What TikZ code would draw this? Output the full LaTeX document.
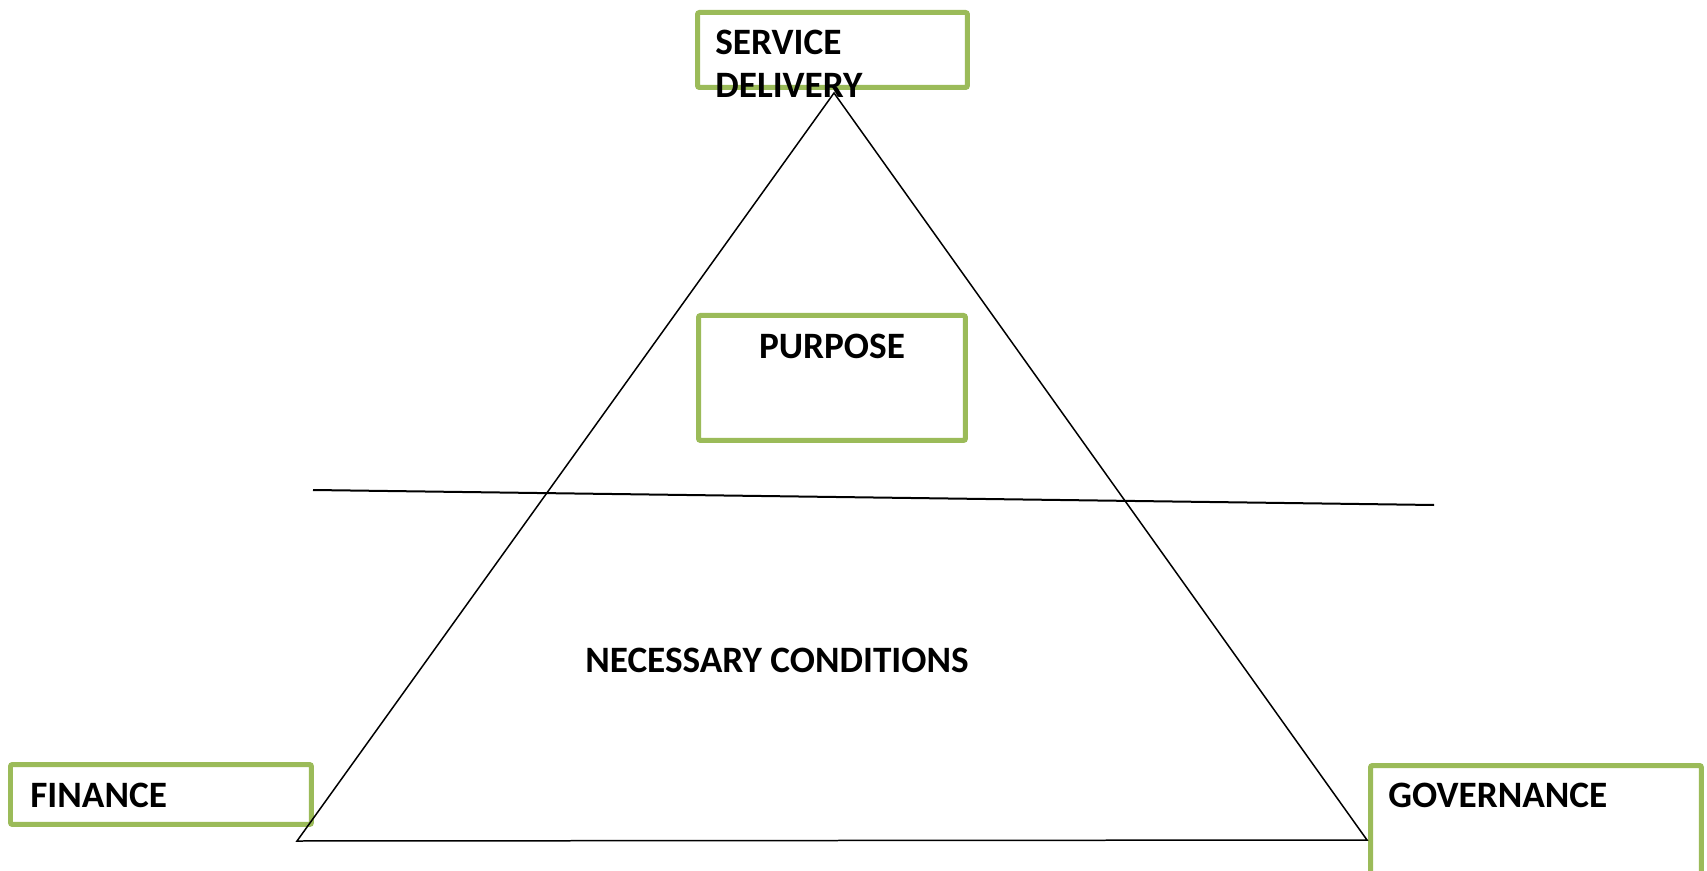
\documentclass[tikz,border=0pt]{standalone}
\usepackage{fontspec}
\setmainfont{Carlito}
\definecolor{boxgreen}{HTML}{9BBB59}
\begin{document}
\begin{tikzpicture}[x=0.02cm,y=-0.02cm,
    greenbox/.style={draw=boxgreen,line width=0.1cm,rounded corners=0.04cm,
      anchor=north west,inner sep=0pt},
    lbl/.style={font=\bfseries\fontsize{21.2}{24.5}\selectfont,inner sep=0pt,align=left}]
  \useasboundingbox (0,0) rectangle (1707,871);
  % boxes
  \node[greenbox,minimum width=5.4cm,minimum height=1.5cm] (sdbox) at (695,10) {};
  \node[greenbox,minimum width=5.34cm,minimum height=2.5cm] (purposebox) at (696,313) {};
  \node[greenbox,minimum width=6.02cm,minimum height=1.2cm] (financebox) at (8,762) {};
  \node[greenbox,minimum width=6.62cm,minimum height=2.8cm] (govbox) at (1368,763) {};
  % triangle
  \coordinate (apex) at (834,93);
  \coordinate (bl) at (297,841);
  \coordinate (br) at (1367,840);
  \draw[line width=0.03cm] (apex) -- (bl) -- (br) -- cycle;
  % divider
  \coordinate (divL) at (313,490);
  \coordinate (divR) at (1434,505);
  \draw[line width=0.04cm] (divL) -- (divR);
  % labels
  \node[lbl,anchor=base west] (sd) at (715,98) {SERVICE\\DELIVERY};
  \node[lbl,anchor=base] (purpose) at (832,358) {PURPOSE};
  \node[lbl,anchor=base] (necessary) at (777,672) {NECESSARY CONDITIONS};
  \node[lbl,anchor=base west] (finance) at (30,807) {FINANCE};
  \node[lbl,anchor=base west] (governance) at (1388,807) {GOVERNANCE};
\end{tikzpicture}
\end{document}
